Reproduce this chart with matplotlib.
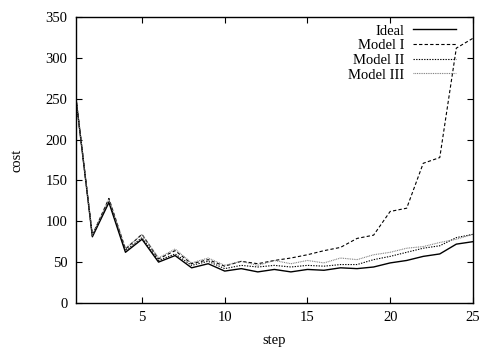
import matplotlib
matplotlib.use("Agg")
import matplotlib.pyplot as plt

# cost per step for the ideal run and the three models
steps = list(range(1, 26))
ideal = [252, 81, 123, 62, 78, 50, 58, 43, 48, 39, 42, 38, 41, 38, 41, 40, 43, 42, 44, 49, 52, 57, 60, 72, 75]
model_1 = [252, 83, 128, 66, 84, 54, 64, 48, 53, 45, 51, 48, 52, 55, 59, 64, 68, 79, 83, 112, 116, 171, 178, 312, 324]
model_2 = [252, 82, 125, 64, 80, 52, 60, 46, 51, 42, 46, 44, 46, 44, 46, 45, 47, 47, 53, 57, 62, 67, 70, 80, 84]
model_3 = [252, 83, 127, 67, 84, 55, 66, 49, 55, 46, 51, 46, 52, 48, 52, 49, 55, 53, 59, 62, 67, 69, 74, 78, 84]

x_ticks = [5, 10, 15, 20, 25]
y_ticks = [0, 50, 100, 150, 200, 250, 300, 350]

plt.rcParams["font.family"] = ["Liberation Serif", "DejaVu Serif"]
plt.rcParams["font.size"] = 10.5

fig = plt.figure(figsize=(4.83, 3.49), dpi=100)
ax = fig.add_axes([0.157, 0.132, 0.822, 0.819])

ax.plot(steps, ideal, color="black", lw=1.0, label="Ideal")
ax.plot(steps, model_1, color="black", lw=0.8, dashes=(3, 2), label="Model I")
ax.plot(steps, model_2, color="black", lw=0.8, dashes=(1.2, 1.2), label="Model II")
ax.plot(steps, model_3, color="#777777", lw=0.8, dashes=(0.8, 0.8), label="Model III")

ax.set_xlim(1, 25)
ax.set_ylim(0, 350)
ax.set_xticks(x_ticks)
ax.set_yticks(y_ticks)
ax.tick_params(direction="in", top=True, right=True, length=4, width=0.8, pad=6)
for s in ax.spines.values():
    s.set_linewidth(1.0)

ax.set_xlabel("step", labelpad=7)
ax.set_ylabel("cost", labelpad=16)

ax.legend(loc="upper right", frameon=False, markerfirst=False,
          handlelength=2.9, handletextpad=0.6, labelspacing=0.1,
          borderaxespad=0.1, bbox_to_anchor=(0.975, 1.0))

fig.savefig("out.png", dpi=100)
